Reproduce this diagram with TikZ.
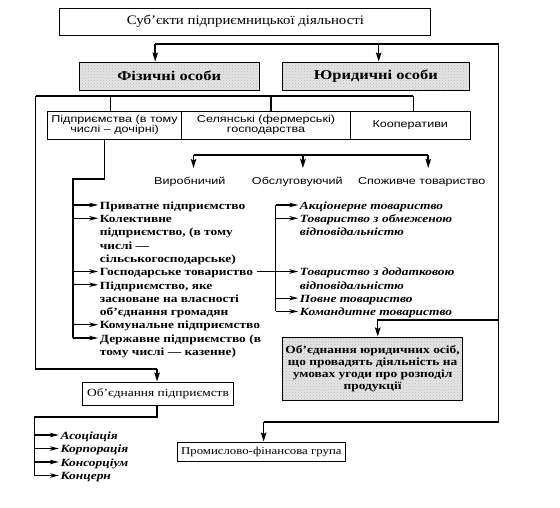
\documentclass[tikz,border=0pt]{standalone}
\usepackage{fontspec}
\setmainfont{Liberation Serif}[FakeStretch=1.22]
\newfontfamily\sansf{Liberation Sans}[FakeStretch=1.26]
\newfontfamily\titlef{Liberation Serif}[FakeStretch=1.14]
\usetikzlibrary{arrows.meta,patterns,calc}
\begin{document}
\begin{tikzpicture}[x=0.935pt,y=-1pt,
  conn/.style={line width=1.5pt},
  darr/.style={conn,-{Stealth[length=9pt,width=5.5pt,inset=1.5pt]}},
  lline/.style={line width=1.2pt},
  larr/.style={line width=1.1pt,-{Stealth[length=9pt,width=4.5pt,inset=2.5pt]}},
  plainbox/.style={draw,line width=0.9pt,inner sep=1pt,align=center},
  graybox/.style={plainbox,preaction={fill=black!10},pattern=crosshatch dots,pattern color=black!28},
  sanstext/.style={font=\sansf\fontsize{10}{10}\selectfont},
  litem/.style={anchor=north west,inner sep=0pt,yshift=5.3pt,xshift=1.5pt,align=left,font=\bfseries\fontsize{11}{13.3}\selectfont},
  ritem/.style={litem,font=\bfseries\itshape\fontsize{11}{13.3}\selectfont}
]
\useasboundingbox[fill=white] (0,0) rectangle (598.93,508);

% boxes
\node[plainbox,minimum width=371pt,minimum height=27pt,font=\titlef\fontsize{13}{15}\selectfont] (title) at (262.5,21.5) {Суб’єкти підприємницької діяльності};
\node[graybox,minimum width=179.5pt,minimum height=28pt,font=\bfseries\fontsize{13.5}{15}\selectfont] (fiz) at (181,76) {Фізичні особи};
\node[graybox,minimum width=187pt,minimum height=28pt,font=\bfseries\fontsize{13.5}{15}\selectfont] (yur) at (402,76) {Юридичні особи};

\node[plainbox,sanstext,minimum width=133.7pt,minimum height=28pt] (pa) at (122.5,125) {Підприємства (в тому\\числі – дочірні)};
\node[plainbox,sanstext,minimum width=169.2pt,minimum height=28pt] (pb) at (284.5,125) {Селянські (фермерські)\\господарства};
\node[plainbox,sanstext,minimum width=119.4pt,minimum height=28pt] (pc) at (438.8,125) {Кооперативи};

\node[sanstext,inner sep=1pt] (v1) at (203,182) {Виробничий};
\node[sanstext,inner sep=1pt] (v2) at (318,182) {Обслуговуючий};
\node[sanstext,inner sep=1pt] (v3) at (451,182) {Споживче товариство};

\node[plainbox,minimum width=151.5pt,minimum height=23pt,font=\fontsize{11}{13}\selectfont] (ob) at (169,393.5) {Об’єднання підприємств};
\node[graybox,minimum width=180.5pt,minimum height=63pt,font=\bfseries\fontsize{11}{12}\selectfont] (oj) at (398.5,368.5) {Об’єднання юридичних осіб,\\що провадять діяльність на\\умовах угоди про розподіл\\продукції};
\node[plainbox,minimum width=167.4pt,minimum height=19pt,font=\fontsize{10.5}{12}\selectfont] (pf) at (279.5,451.5) {Промислово-фінансова група};

% left list
\coordinate (q1) at (105,205);
\coordinate (q2) at (105,218.3);
\coordinate (q3) at (105,271.5);
\coordinate (q4) at (105,284.8);
\coordinate (q5) at (105,324.7);
\coordinate (q6) at (105,338);
\node[litem] (p1) at (q1) {\strut Приватне підприємство};
\node[litem] (p2) at (q2) {\strut Колективне\\підприємство, (в тому\\числі —\\сільськогосподарське)};
\node[litem] (p3) at (q3) {\strut Господарське товариство};
\node[litem] (p4) at (q4) {\strut Підприємство, яке\\засноване на власності\\об’єднання громадян};
\node[litem] (p5) at (q5) {\strut Комунальне підприємство};
\node[litem] (p6) at (q6) {\strut Державне підприємство (в\\тому числі — казенне)};

% right list
\coordinate (s1) at (319,205);
\coordinate (s2) at (319,218.3);
\coordinate (s3) at (319,271.5);
\coordinate (s4) at (319,298.1);
\coordinate (s5) at (319,311.4);
\node[ritem] (r1) at (s1) {\strut Акціонерне товариство};
\node[ritem] (r2) at (s2) {\strut Товариство з обмеженою\\відповідальністю};
\node[ritem] (r3) at (s3) {\strut Товариство з додатковою\\відповідальністю};
\node[ritem] (r4) at (s4) {\strut Повне товариство};
\node[ritem] (r5) at (s5) {\strut Командитне товариство};

% bottom list
\coordinate (b1) at (63,435);
\coordinate (b2) at (63,448.5);
\coordinate (b3) at (63,462);
\coordinate (b4) at (63,475.5);
\node[ritem] (c1) at (b1) {\strut Асоціація};
\node[ritem] (c2) at (b2) {\strut Корпорація};
\node[ritem] (c3) at (b3) {\strut Консорціум};
\node[ritem] (c4) at (b4) {\strut Концерн};

% top connectors
\coordinate (t1) at (166,44);
\coordinate (t2) at (405,44);
\coordinate (tr) at (533,44);
\coordinate (rj) at (533,320);
\coordinate (rjx) at (404,320);
\coordinate (rb) at (533,422);
\coordinate (pfx) at (282,422);
\draw[conn] (t1) -- (tr) -- (rb) -- (pfx);
\draw[darr] (t1) -- (t1 |- fiz.north);
\draw[darr] (t2) -- (t2 |- yur.north);
\draw[darr] (pfx) -- (pfx |- pf.north);
\draw[darr] (rj) -- (rjx) -- (rjx |- oj.north);

% row of boxes
\coordinate (w0) at (38,96);
\coordinate (w1) at (118,96);
\coordinate (w2) at (290,96);
\coordinate (w3) at (442,96);
\draw[conn] (w0) -- (w3);
\draw[conn] (w1) -- (w1 |- pa.north);
\draw[conn] (w2) -- (w2 |- pb.north);
\draw[conn] (w3) -- (w3 |- pc.north);

% left long line to associations
\coordinate (l1) at (38,369);
\coordinate (l2) at (168,369);
\coordinate (l3) at (168,417);
\coordinate (l4) at (37,417);
\draw[conn] (w0) -- (l1) -- (l2);
\draw[darr] (l2) -- (l2 |- ob.north);
\draw[conn] (l3 |- ob.south) -- (l3) -- (l4) -- (l4 |- b4);
\foreach \b in {b1,b2,b3,b4} \draw[larr] (l4 |- \b) -- (\b);

% cooperative types
\coordinate (m1) at (207,155);
\coordinate (m2) at (324,155);
\coordinate (m3) at (458,155);
\coordinate (mt) at (0,168);
\draw[conn] (m1) -- (m3);
\draw[darr] (m1) -- (m1 |- mt);
\draw[darr] (m2) -- (m2 |- mt);
\draw[darr] (m3) -- (m3 |- mt);

% enterprise list
\coordinate (k0) at (112,179);
\coordinate (k1) at (78,179);
\draw[conn] (k0 |- pa.south) -- (k0) -- (k1) -- (k1 |- q6);
\foreach \q in {q1,q2,q3,q4,q5,q6} \draw[larr] (k1 |- \q) -- (\q);

% business partnership list
\coordinate (rv) at (295,205);
\draw[lline] ($(p3.east |- q3)+(4,0)$) -- (rv |- q3);
\draw[lline] (rv |- s1) -- (rv |- s5);
\foreach \s in {s1,s2,s3,s4,s5} \draw[larr] (rv |- \s) -- (\s);
\end{tikzpicture}
\end{document}
